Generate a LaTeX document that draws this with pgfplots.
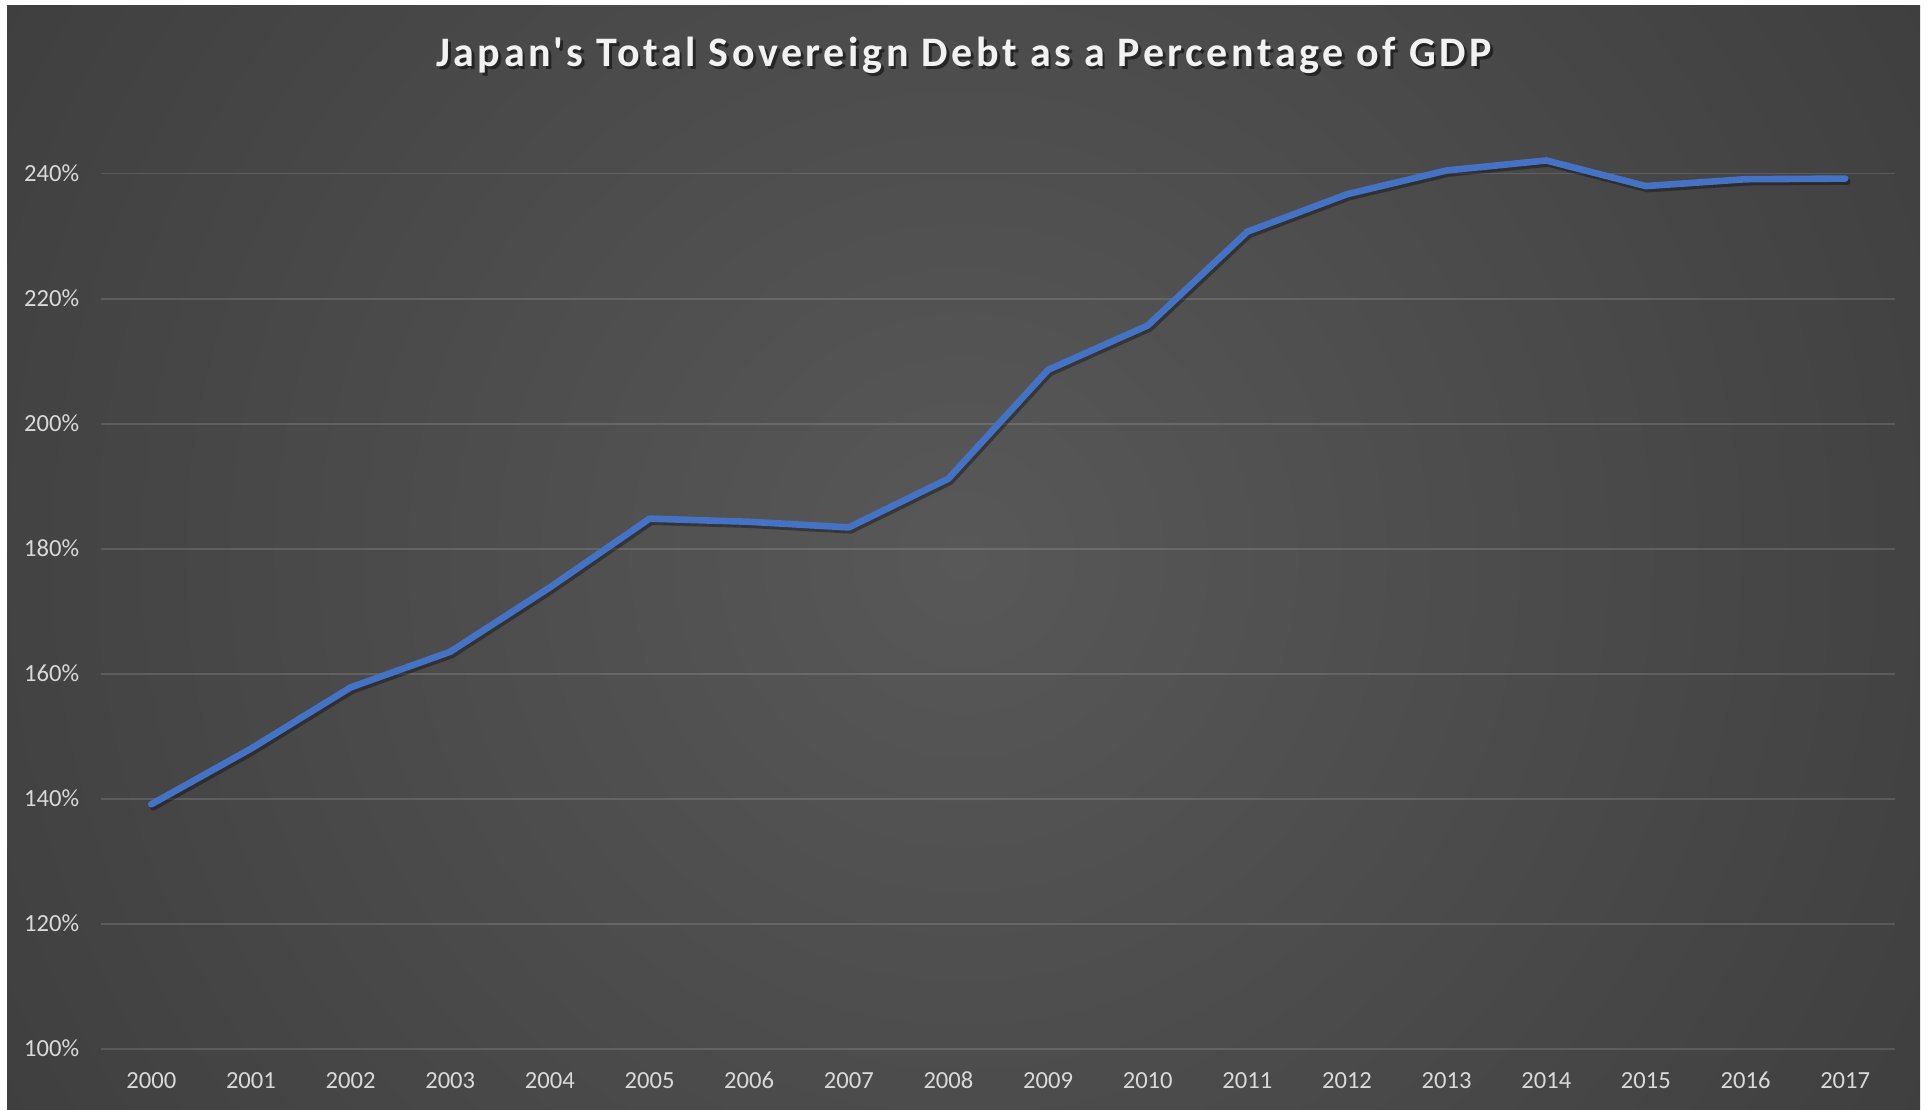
\documentclass[border=0pt]{standalone}
\usepackage{pgfplots}
\pgfplotsset{compat=1.18}
\usepackage{fontspec}
\setmainfont{Carlito}
\newfontfamily\titlefont[LetterSpace=8.5]{Carlito}
\definecolor{bga}{HTML}{585858}
\definecolor{bgb}{HTML}{444444}
\definecolor{bgc}{HTML}{2F2F2F}
\definecolor{bgd}{HTML}{252525}
\definecolor{lineblue}{HTML}{4472C4}
\definecolor{labc}{HTML}{D9D9D9}
\pgfdeclareradialshading{chartbg}{\pgfpoint{0bp}{0bp}}{color(0bp)=(bga); color(20bp)=(bgb); color(41bp)=(bgc); color(50bp)=(bgd)}
\begin{document}
\begin{tikzpicture}
\useasboundingbox (0,0) rectangle (965pt,554.5pt);
\fill[white] (0,0) rectangle (965pt,554.5pt);
\begin{scope}
\clip (3.5pt,0pt) rectangle (960pt,551.5pt);
\shade[shading=chartbg] (-74.25pt,-280.25pt) rectangle (1037.75pt,831.75pt);
\end{scope}
\node[anchor=base, text=black, opacity=0.5] at (483.4pt,519.9pt) {\titlefont\bfseries\fontsize{21}{24}\selectfont Japan's Total Sovereign Debt as a Percentage of GDP};
\node[anchor=base, text=white!95!black] at (482pt,521.15pt) {\titlefont\bfseries\fontsize{21}{24}\selectfont Japan's Total Sovereign Debt as a Percentage of GDP};
\begin{axis}[
  at={(50.75pt,30.15pt)}, anchor=south west,
  scale only axis, width=896.75pt, height=437.55pt,
  xmin=-0.5, xmax=17.5, ymin=100, ymax=240,
  clip=false,
  axis line style={draw=none},
  major tick length=0pt, tick style={draw=none},
  ytick={100,120,140,160,180,200,220,240},
  yticklabels={100\%,120\%,140\%,160\%,180\%,200\%,220\%,240\%},
  xtick={0,1,2,3,4,5,6,7,8,9,10,11,12,13,14,15,16,17},
  xticklabels={2000,2001,2002,2003,2004,2005,2006,2007,2008,2009,2010,2011,2012,2013,2014,2015,2016,2017},
  ymajorgrids,
  major grid style={line width=0.9pt, draw=white, draw opacity=0.13},
  ticklabel style={font=\fontsize{12.3}{14}\selectfont, text=labc},
  yticklabel style={anchor=east, inner sep=0pt, xshift=-11pt},
  xticklabel style={anchor=north, inner sep=0pt, yshift=-11.5pt},
  /pgf/number format/assume math mode=true,
]
\addplot[draw=black, draw opacity=0.35, line width=3.3pt, line join=round, line cap=round, xshift=1pt, yshift=-1.5pt] table {
x y
0 139.1
1 148.0
2 157.8
3 163.5
4 173.8
5 184.8
6 184.3
7 183.4
8 191.2
9 208.6
10 215.7
11 230.7
12 236.7
13 240.5
14 242.1
15 238.0
16 239.1
17 239.2
};
\addplot[draw=lineblue, line width=3.3pt, line join=round, line cap=round] table {
x y
0 139.1
1 148.0
2 157.8
3 163.5
4 173.8
5 184.8
6 184.3
7 183.4
8 191.2
9 208.6
10 215.7
11 230.7
12 236.7
13 240.5
14 242.1
15 238.0
16 239.1
17 239.2
};
\end{axis}
\end{tikzpicture}
\end{document}
